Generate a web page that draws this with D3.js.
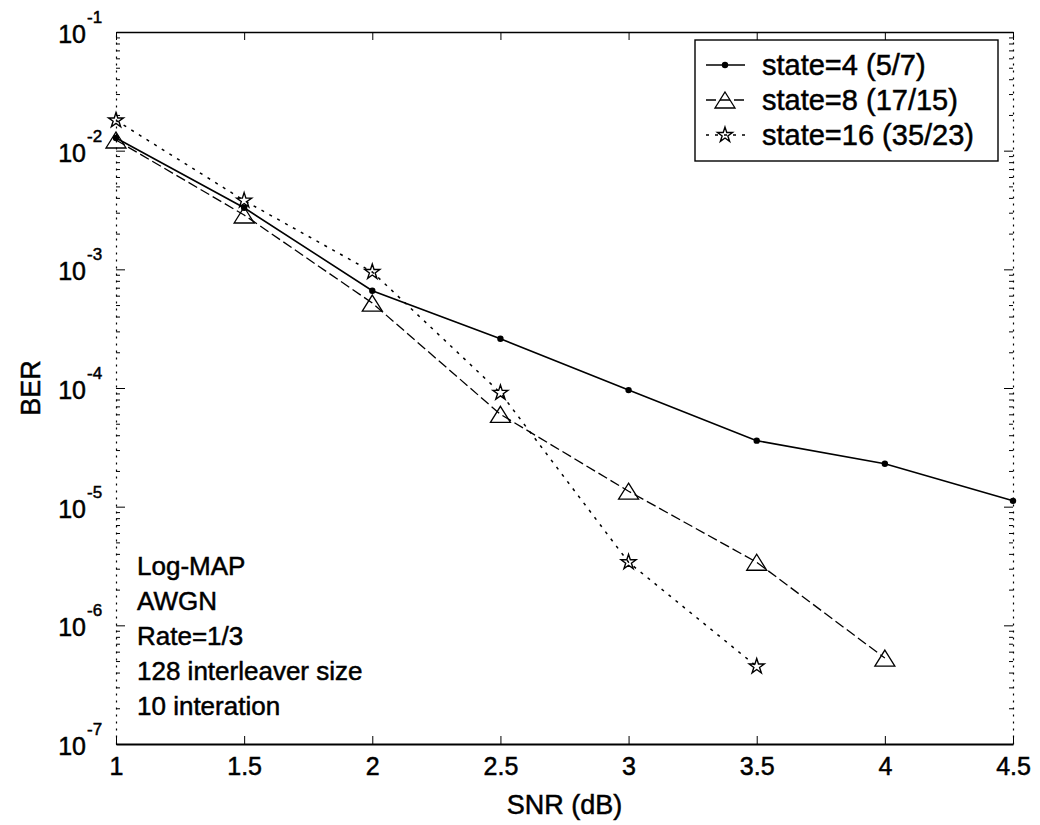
<!DOCTYPE html>
<html><head><meta charset="utf-8">
<script src="https://cdn.jsdelivr.net/npm/d3@7"></script>
<style>
body{margin:0;background:#fff}
svg{display:block;background:#fff}
text{font-family:"Liberation Sans", Arial, Helvetica, sans-serif; fill:#000; stroke:#000; stroke-width:0.5px}
</style>
</head><body>
<svg id="chart" width="1040" height="825"></svg>
<script>
// ---- data ----
const snr = [1, 1.5, 2, 2.5, 3, 3.5, 4, 4.5];
const state4 = [1.28e-2, 3.3e-3, 6.6e-4, 2.6e-4, 9.6e-5, 3.6e-5, 2.3e-5, 1.12e-5];
const state8 = [1.23e-2, 2.87e-3, 5.2e-4, 6.0e-5, 1.35e-5, 3.4e-6, 5.3e-7];
const state16 = [1.8e-2, 3.8e-3, 9.5e-4, 9.1e-5, 3.4e-6, 4.5e-7];
const seriesNames = ["state=4 (5/7)", "state=8 (17/15)", "state=16 (35/23)"];
const xTicks = [1, 1.5, 2, 2.5, 3, 3.5, 4, 4.5];
const xTickLabels = ["1", "1.5", "2", "2.5", "3", "3.5", "4", "4.5"];
const yTicks = [1e-1, 1e-2, 1e-3, 1e-4, 1e-5, 1e-6, 1e-7];
const yTickExponents = ["-1", "-2", "-3", "-4", "-5", "-6", "-7"];
const annotations = ["Log-MAP", "AWGN", "Rate=1/3", "128 interleaver size", "10 interation"];
const xLabel = "SNR (dB)";
const yLabel = "BER";

// ---- layout ----
const L = 116, R = 1013, T = 32, B = 744;
const svg = d3.select("#chart");
const x = d3.scaleLinear().domain([1, 4.5]).range([L, R]);
const y = d3.scaleLog().domain([1e-7, 1e-1]).range([B, T]);

// minor ticks
const minor = [];
for (let e = -7; e < -1; e++) for (let m = 2; m <= 9; m++) minor.push(m * Math.pow(10, e));

// left axis
const gl = svg.append("g").attr("transform", `translate(${L},0)`);
gl.call(d3.axisLeft(y).tickValues(yTicks).tickSize(-9).tickSizeOuter(0).tickFormat(""));
gl.append("g").call(d3.axisLeft(y).tickValues(minor).tickSize(-4).tickSizeOuter(0).tickFormat(""))
  .select(".domain").remove();
// right axis
const gr = svg.append("g").attr("transform", `translate(${R},0)`);
gr.call(d3.axisRight(y).tickValues(yTicks).tickSize(-9).tickSizeOuter(0).tickFormat(""));
gr.append("g").call(d3.axisRight(y).tickValues(minor).tickSize(-4).tickSizeOuter(0).tickFormat(""))
  .select(".domain").remove();
svg.selectAll(".domain").attr("stroke-dasharray", "2,5").attr("stroke-width", 1.2);

// bottom axis
const gb = svg.append("g").attr("transform", `translate(0,${B})`);
gb.call(d3.axisBottom(x).tickValues(xTicks).tickSize(-8).tickSizeOuter(0).tickPadding(13)
  .tickFormat((d, i) => xTickLabels[i]));
gb.select(".domain").attr("stroke-width", 2).attr("stroke-dasharray", null);
gb.selectAll("text").style("font-size", "25px");
// top axis
const gt = svg.append("g").attr("transform", `translate(0,${T})`);
gt.call(d3.axisTop(x).tickValues(xTicks).tickSize(-8).tickSizeOuter(0).tickFormat(""));
gt.select(".domain").attr("stroke-width", 1.6).attr("stroke-dasharray", null);

// y tick labels 10^n
const yl = svg.append("g");
yTicks.forEach((t, i) => {
  yl.append("text").attr("x", 86).attr("y", y(t) + 11).attr("text-anchor", "end")
    .style("font-size", "25px").text("10");
  yl.append("text").attr("x", 87).attr("y", y(t) - 9).attr("text-anchor", "start")
    .style("font-size", "17px").text(yTickExponents[i]);
});

// axis labels
svg.append("text").attr("x", (L + R) / 2).attr("y", 814).attr("text-anchor", "middle")
  .style("font-size", "27px").text(xLabel);
svg.append("text").attr("transform", `translate(40,${(T + B) / 2}) rotate(-90)`)
  .attr("text-anchor", "middle").style("font-size", "27px").text(yLabel);

// series
const series = [
  {vals: state4, dash: null, width: 1.6, marker: "dot"},
  {vals: state8, dash: "10,4", width: 1.3, marker: "tri"},
  {vals: state16, dash: "3,6", width: 1.5, marker: "star"}
];
const line = d3.line().x(d => x(d[0])).y(d => y(d[1]));
const starPath = d3.symbol().type(d3.symbolStar).size(70)();
function drawMarker(g, type, cx, cy) {
  if (type === "dot") {
    g.append("circle").attr("cx", cx).attr("cy", cy).attr("r", 3.2).attr("fill", "#000");
  } else if (type === "tri") {
    g.append("path").attr("d", `M${cx},${cy - 8}L${cx + 10},${cy + 8}L${cx - 10},${cy + 8}Z`)
      .attr("fill", "none").attr("stroke", "#000").attr("stroke-width", 1.3);
  } else {
    g.append("path").attr("d", starPath).attr("transform", `translate(${cx},${cy})`)
      .attr("fill", "none").attr("stroke", "#000").attr("stroke-width", 1.4);
  }
}
series.forEach(s => {
  const pts = s.vals.map((v, i) => [snr[i], v]);
  svg.append("path").datum(pts).attr("d", line).attr("fill", "none").attr("stroke", "#000")
    .attr("stroke-width", s.width).attr("stroke-dasharray", s.dash);
  const g = svg.append("g");
  pts.forEach(p => drawMarker(g, s.marker, x(p[0]), y(p[1])));
});

// legend
const lg = svg.append("g");
lg.append("rect").attr("x", 695).attr("y", 40).attr("width", 303).attr("height", 121)
  .attr("fill", "#fff").attr("stroke", "#000").attr("stroke-width", 1.4);
const rowY = [65, 100, 135];
series.forEach((s, i) => {
  lg.append("line").attr("x1", 706).attr("x2", 745).attr("y1", rowY[i]).attr("y2", rowY[i])
    .attr("stroke", "#000").attr("stroke-width", s.width).attr("stroke-dasharray", s.dash);
  drawMarker(lg, s.marker, 725, rowY[i]);
  lg.append("text").attr("x", 762).attr("y", rowY[i] + 10).style("font-size", "29px").text(seriesNames[i]);
});

// annotation
annotations.forEach((a, i) => {
  svg.append("text").attr("x", 137).attr("y", 575 + i * 35).style("font-size", "26px").text(a);
});
</script>
</body></html>
